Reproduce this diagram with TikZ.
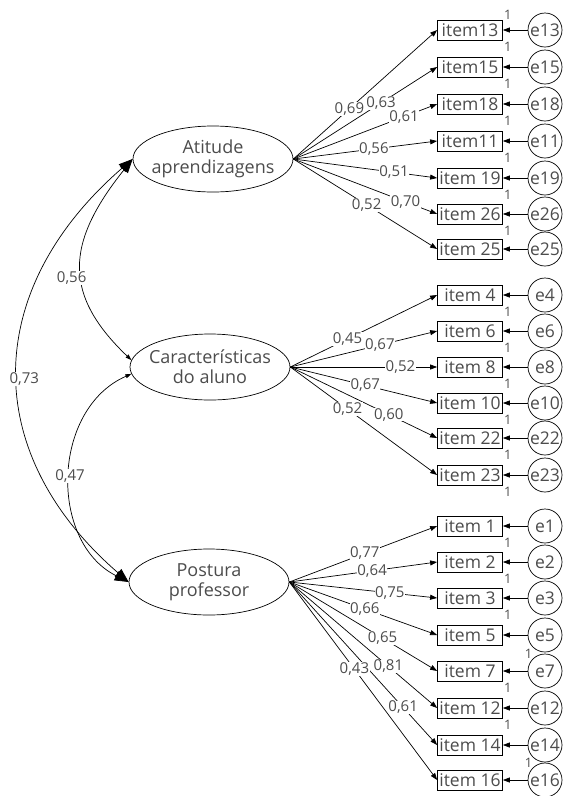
\documentclass[tikz,border=0pt]{standalone}
\usepackage{fontspec}
\setmainfont{Open Sans}
\usetikzlibrary{shapes.geometric,arrows.meta}

\tikzset{
  latent/.style={ellipse, draw=black, minimum width=160, minimum height=66, inner xsep=-6pt, inner ysep=0pt, align=center, text=black!70, font=\fontsize{18}{20}\selectfont},
  itembox/.style={rectangle, draw=black, minimum width=65, minimum height=20, inner sep=0pt, text=black!70, font=\fontsize{17.5}{18}\selectfont},
  errcirc/.style={circle, draw=black, minimum size=34, inner sep=0pt, text=black!70, font=\fontsize{17.5}{18}\selectfont},
  coef/.style={fill=white, inner sep=0.5pt, text=black!70, font=\fontsize{15}{15}\selectfont},
  unitone/.style={inner sep=0pt, text=black!70, font=\fontsize{13}{13}\selectfont},
}

\begin{document}
\begin{tikzpicture}[x=1pt, y=-1pt, >={Triangle[length=7pt,width=5pt]}, line width=0.7pt]
\useasboundingbox (0,0) rectangle (565,796);
% latent variables
\node[latent] (atd) at (213,159) {Atitude\\aprendizagens};
\node[latent] (car) at (210,367) {Características\\do aluno};
\node[latent] (pst) at (209,582) {Postura\\professor};

% correlations
\draw[{Triangle[length=14pt,width=10pt]}-{Triangle[length=14pt,width=10pt]}] (atd.west) .. controls +(-150,130) and +(-150,-130) .. (pst.west) node[coef, pos=0.52, xshift=6] {0,73};
\draw[{Triangle[length=14pt,width=10pt]}-{Triangle[length=6pt,width=4pt]}] (atd.west) .. controls +(-68,85) and +(-68,-65) .. (car.175) node[coef, pos=0.56, xshift=-10] {0,56};
\draw[{Triangle[length=6pt,width=4pt]}-{Triangle[length=14pt,width=10pt]}] (car.185) .. controls +(-80,35) and +(-80,-40) .. (pst.west) node[coef, pos=0.5] {0,47};

% items of Atitude aprendizagens
\node[itembox] (i13) at (470,30) {item13};
\node[itembox] (i15) at (470,67) {item15};
\node[itembox] (i18) at (470,104) {item18};
\node[itembox] (i11) at (470,141) {item11};
\node[itembox] (i19) at (470,178) {item 19};
\node[itembox] (i26) at (470,214) {item 26};
\node[itembox] (i25) at (470,249) {item 25};
\node[errcirc] (e13) at (545,30) {e13};
\node[errcirc] (e15) at (545,67) {e15};
\node[errcirc] (e18) at (545,104) {e18};
\node[errcirc] (e11) at (545,141) {e11};
\node[errcirc] (e19) at (545,178) {e19};
\node[errcirc] (e26) at (545,214) {e26};
\node[errcirc] (e25) at (545,249) {e25};
\draw[->] (atd.east) -- (i13.west) node[coef, pos=0.39] {0,69};
\draw[->] (atd.east) -- (i15.west) node[coef, pos=0.61] {0,63};
\draw[->] (atd.east) -- (i18.west) node[coef, pos=0.77] {0,61};
\draw[->] (atd.east) -- (i11.west) node[coef, pos=0.56] {0,56};
\draw[->] (atd.east) -- (i19.west) node[coef, pos=0.70] {0,51};
\draw[->] (atd.east) -- (i26.west) node[coef, pos=0.78] {0,70};
\draw[->] (atd.east) -- (i25.west) node[coef, pos=0.51] {0,52};
\draw[->] (e13) -- (i13) node[unitone, pos=0.8, above=10pt] {1} node[unitone, pos=0.8, below=12pt] {1};
\draw[->] (e15) -- (i15) node[unitone, pos=0.8, below=12pt] {1};
\draw[->] (e18) -- (i18) node[unitone, pos=0.8, below=12pt] {1};
\draw[->] (e11) -- (i11) node[unitone, pos=0.8, below=12pt] {1};
\draw[->] (e19) -- (i19) node[unitone, pos=0.8, below=12pt] {1};
\draw[->] (e26) -- (i26) node[unitone, pos=0.8, below=12pt] {1};
\draw[->] (e25) -- (i25);

% items of Caracteristicas do aluno
\node[itembox] (i4) at (470,295) {item 4};
\node[itembox] (i6) at (470,331) {item 6};
\node[itembox] (i8) at (470,367) {item 8};
\node[itembox] (i10) at (470,403) {item 10};
\node[itembox] (i22) at (470,438) {item 22};
\node[itembox] (i23) at (470,475) {item 23};
\node[errcirc] (e4) at (545,295) {e4};
\node[errcirc] (e6) at (545,331) {e6};
\node[errcirc] (e8) at (545,367) {e8};
\node[errcirc] (e10) at (545,403) {e10};
\node[errcirc] (e22) at (545,438) {e22};
\node[errcirc] (e23) at (545,475) {e23};
\draw[->] (car.east) -- (i4.west) node[coef, pos=0.39] {0,45};
\draw[->] (car.east) -- (i6.west) node[coef, pos=0.61] {0,67};
\draw[->] (car.east) -- (i8.west) node[coef, pos=0.75] {0,52};
\draw[->] (car.east) -- (i10.west) node[coef, pos=0.51] {0,67};
\draw[->] (car.east) -- (i22.west) node[coef, pos=0.67] {0,60};
\draw[->] (car.east) -- (i23.west) node[coef, pos=0.39] {0,52};
\draw[->] (e4) -- (i4) node[unitone, pos=0.8, below=12pt] {1};
\draw[->] (e6) -- (i6) node[unitone, pos=0.8, below=12pt] {1};
\draw[->] (e8) -- (i8) node[unitone, pos=0.8, below=12pt] {1};
\draw[->] (e10) -- (i10) node[unitone, pos=0.8, below=12pt] {1};
\draw[->] (e22) -- (i22) node[unitone, pos=0.8, below=12pt] {1};
\draw[->] (e23) -- (i23) node[unitone, pos=0.8, below=12pt] {1};

% items of Postura professor
\node[itembox] (i1) at (470,526) {item 1};
\node[itembox] (i2) at (470,562) {item 2};
\node[itembox] (i3) at (470,598) {item 3};
\node[itembox] (i5) at (470,635) {item 5};
\node[itembox] (i7) at (470,671) {item 7};
\node[itembox] (i12) at (470,708) {item 12};
\node[itembox] (i14) at (470,745) {item 14};
\node[itembox] (i16) at (470,780) {item 16};
\node[errcirc] (e1) at (545,526) {e1};
\node[errcirc] (e2) at (545,562) {e2};
\node[errcirc] (e3) at (545,598) {e3};
\node[errcirc] (e5) at (545,635) {e5};
\node[errcirc, label={[unitone, label distance=0pt]135:1}] (e7) at (545,671) {e7};
\node[errcirc] (e12) at (545,708) {e12};
\node[errcirc] (e14) at (545,745) {e14};
\node[errcirc, label={[unitone, label distance=0pt]135:1}] (e16) at (545,780) {e16};
\draw[->] (pst.east) -- (i1.west) node[coef, pos=0.51] {0,77};
\draw[->] (pst.east) -- (i2.west) node[coef, pos=0.56] {0,64};
\draw[->] (pst.east) -- (i3.west) node[coef, pos=0.68] {0,75};
\draw[->] (pst.east) -- (i5.west) node[coef, pos=0.51] {0,66};
\draw[->] (pst.east) -- (i7.west) node[coef, pos=0.63] {0,65};
\draw[->] (pst.east) -- (i12.west) node[coef, pos=0.67] {0,81};
\draw[->] (pst.east) -- (i14.west) node[coef, pos=0.77] {0,61};
\draw[->] (pst.east) -- (i16.west) node[coef, pos=0.44] {0,43};
\draw[->] (e1) -- (i1) node[unitone, pos=0.8, below=12pt] {1};
\draw[->] (e2) -- (i2) node[unitone, pos=0.8, below=12pt] {1};
\draw[->] (e3) -- (i3) node[unitone, pos=0.8, below=12pt] {1};
\draw[->] (e5) -- (i5);
\draw[->] (e7) -- (i7) node[unitone, pos=0.8, below=12pt] {1};
\draw[->] (e12) -- (i12) node[unitone, pos=0.8, below=12pt] {1};
\draw[->] (e14) -- (i14);
\draw[->] (e16) -- (i16);
\end{tikzpicture}
\end{document}
